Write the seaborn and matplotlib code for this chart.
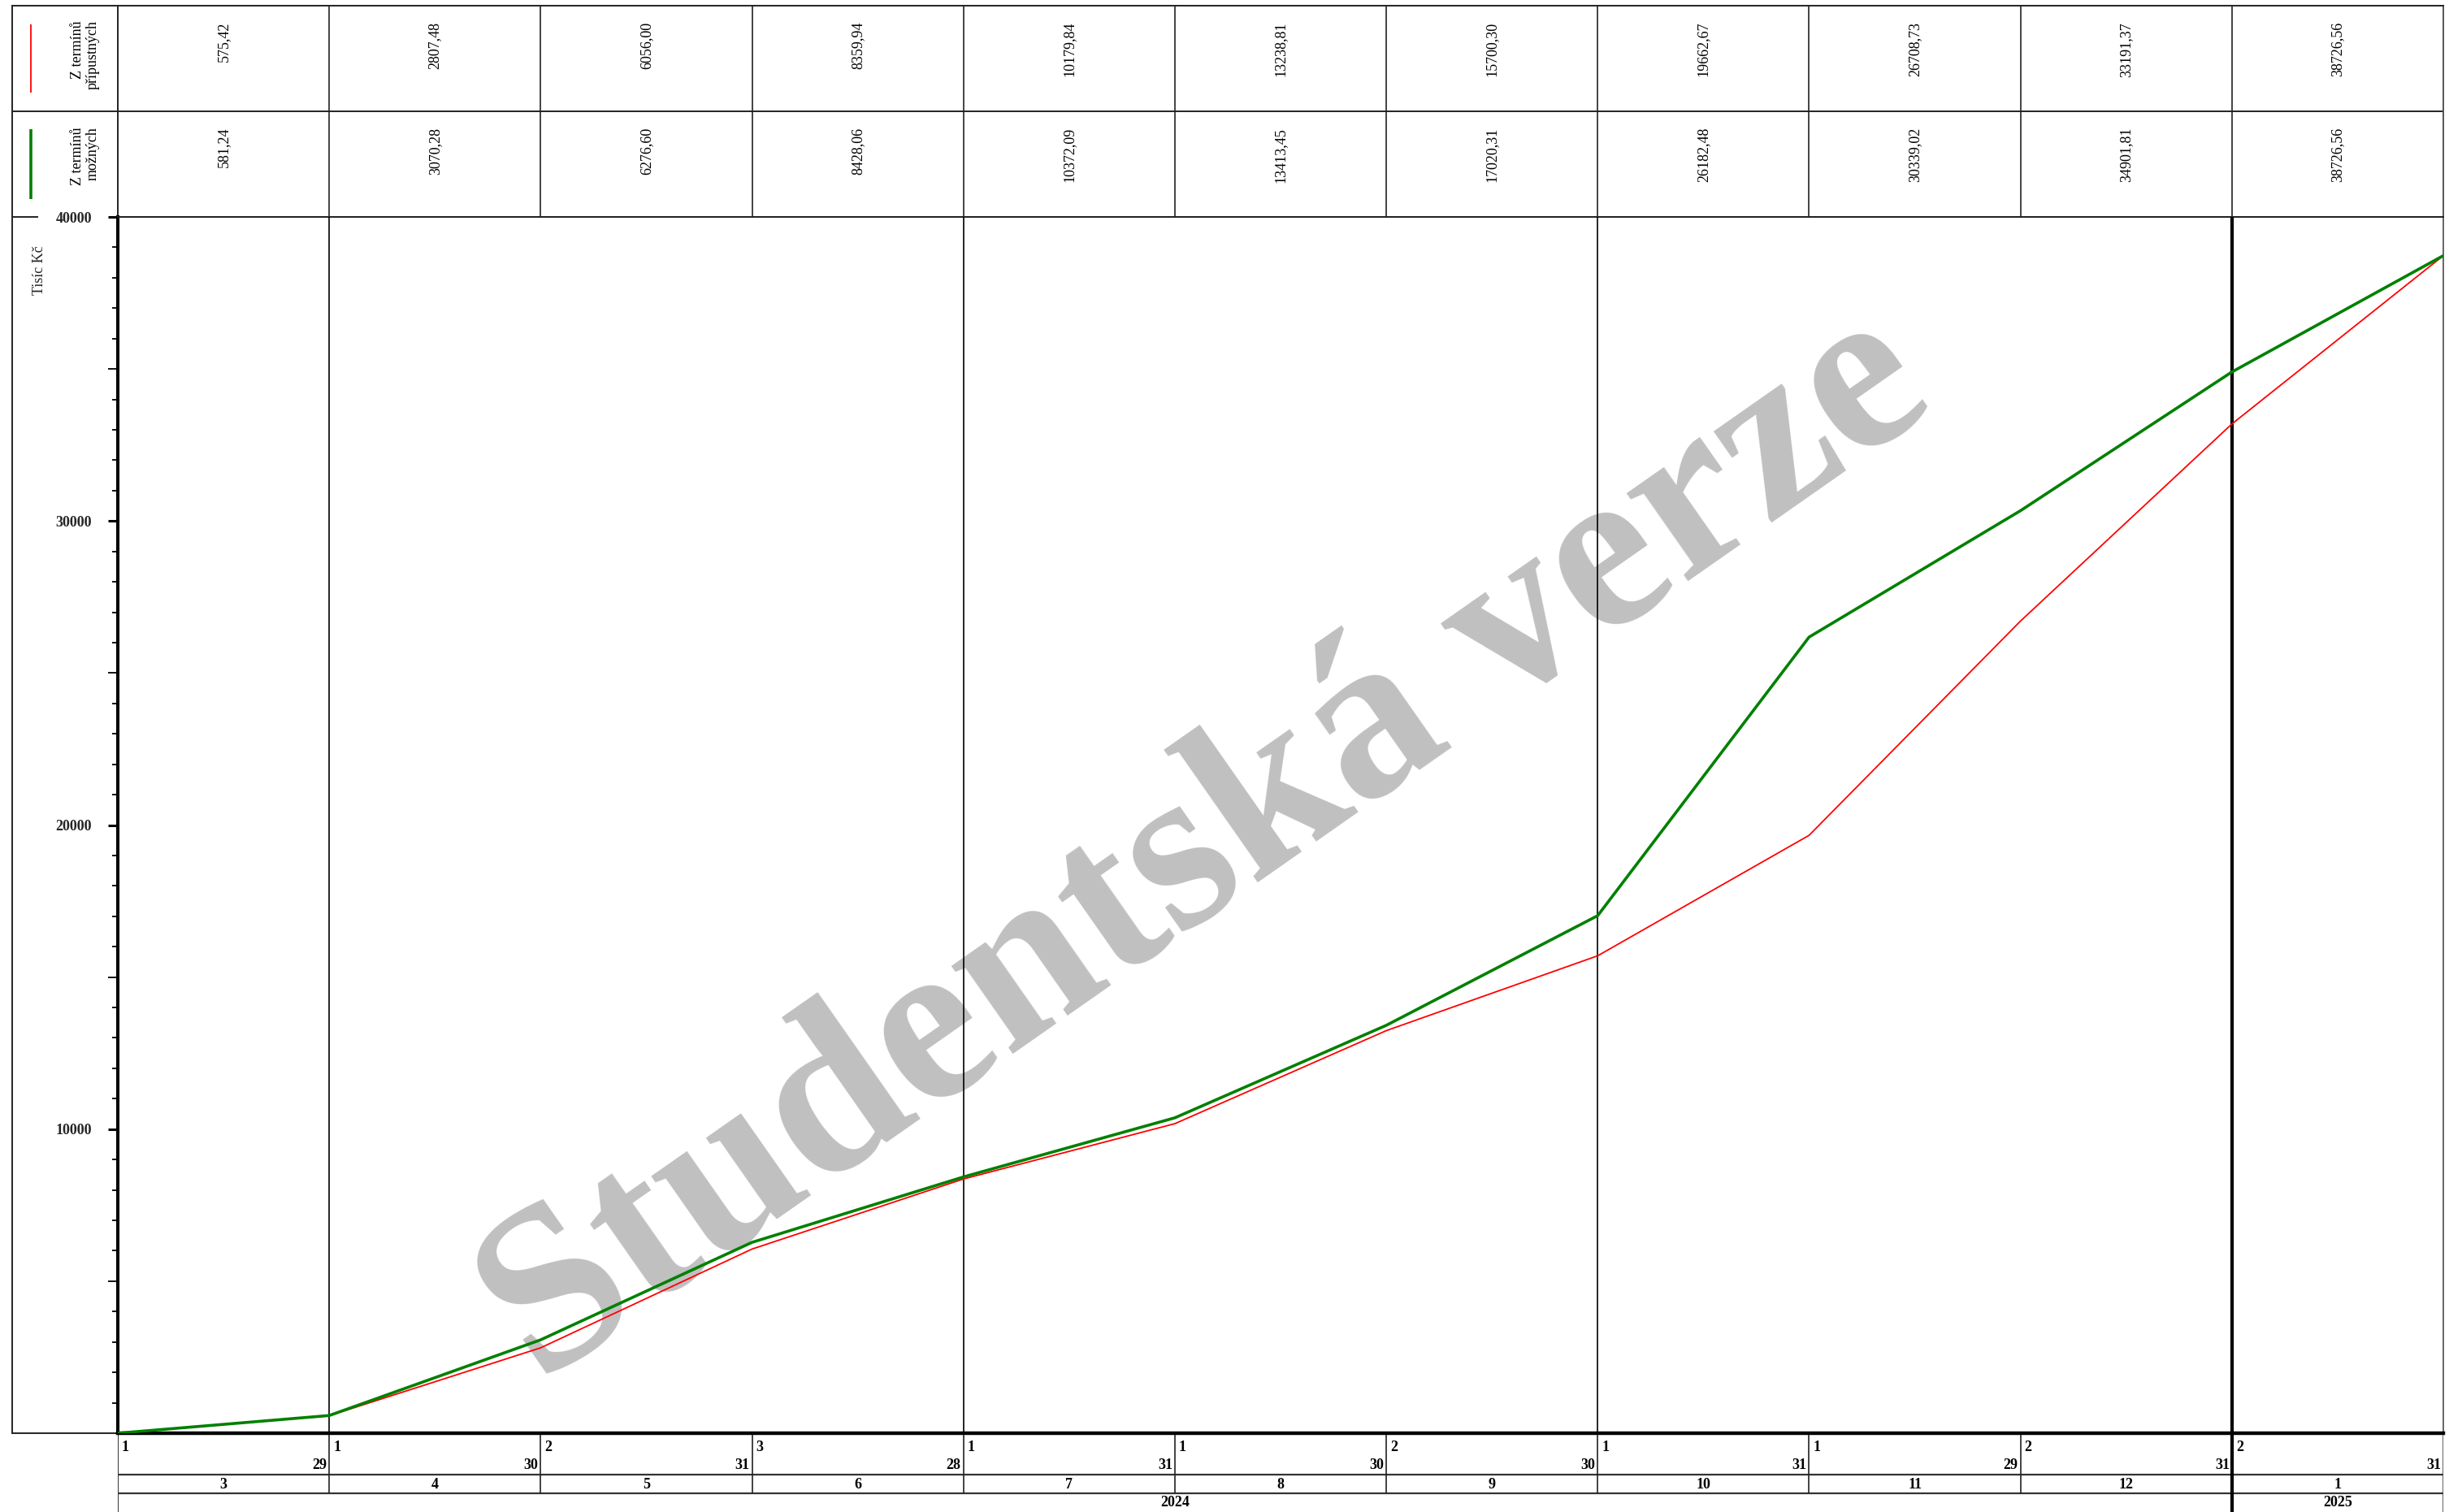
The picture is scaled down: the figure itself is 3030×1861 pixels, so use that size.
import numpy as np
import pandas as pd
import matplotlib
matplotlib.use("Agg")
import matplotlib.pyplot as plt
import seaborn as sns
from matplotlib.ticker import FixedLocator, FixedFormatter
from matplotlib.transforms import offset_copy

# ---------------- data ----------------
months = [3, 4, 5, 6, 7, 8, 9, 10, 11, 12, 1]
month_years = [2024, 2024, 2024, 2024, 2024, 2024, 2024, 2024, 2024, 2024, 2025]
start_days = [1, 1, 2, 3, 1, 1, 2, 1, 1, 2, 2]
end_days = [29, 30, 31, 28, 31, 30, 30, 31, 29, 31, 31]
red_vals = [575.42, 2807.48, 6056.00, 8359.94, 10179.84, 13238.81,
            15700.30, 19662.67, 26708.73, 33191.37, 38726.56]
green_vals = [581.24, 3070.28, 6276.60, 8428.06, 10372.09, 13413.45,
              17020.31, 26182.48, 30339.02, 34901.81, 38726.56]
series_names = ["Z termínů\npřípustných", "Z termínů\nmožných"]
series_colors = ["#ff0000", "#008000"]
y_label = "Tisíc Kč"
y_major = [10000, 20000, 30000, 40000]
watermark = "Studentská verze"

# ---------------- style ----------------
sns.set_theme(style="ticks")
plt.rcParams["font.family"] = ["Liberation Serif", "DejaVu Serif"]
plt.rcParams["text.color"] = "black"

W, H = 3030, 1861
fig = plt.figure(figsize=(W / 100, H / 100), dpi=100)
fig.patch.set_facecolor("white")

L, R = 145, 3007          # plot left/right (px)
T0, T1, T2, B = 7, 137, 267, 1764
LB = 15
GRID = "#222222"
FS = 13

def box(x0, y0, x1, y1):
    return [x0 / W, 1 - y1 / H, (x1 - x0) / W, (y1 - y0) / H]

n = len(months)
xs = np.arange(n + 1)

# ---------------- main plot ----------------
ax = fig.add_axes(box(L, T2, R, B))
ax.set_zorder(3)
ax.patch.set_alpha(0)
df = pd.DataFrame({
    "x": np.concatenate([xs, xs]),
    "value": np.concatenate([[0.0] + red_vals, [0.0] + green_vals]),
    "series": [series_names[0]] * (n + 1) + [series_names[1]] * (n + 1),
})
sns.lineplot(data=df[df.series == series_names[0]], x="x", y="value",
             color=series_colors[0], linewidth=1.3, ax=ax, zorder=4)
sns.lineplot(data=df[df.series == series_names[1]], x="x", y="value",
             color=series_colors[1], linewidth=2.6, ax=ax, zorder=5)
ax.set_xlim(0, n)
ax.set_ylim(0, 40000)
ax.set_xlabel("")
ax.set_xticks([])

# quarter / year boundaries
for i in range(1, n):
    if months[i] == 1:
        ax.axvline(i, color="black", lw=3.0, zorder=3)
    elif months[i - 1] % 3 == 0:
        ax.axvline(i, color="black", lw=1.2, zorder=3)

ax.yaxis.set_major_locator(FixedLocator(y_major))
ax.yaxis.set_major_formatter(FixedFormatter([str(v) for v in y_major]))
ax.yaxis.set_minor_locator(FixedLocator([v for v in range(1000, 40000, 1000) if v % 10000]))
ax.tick_params(axis="y", which="major", length=9, width=2.2, pad=14,
               labelsize=FS, color="black", left=True)
ax.tick_params(axis="y", which="minor", length=5, width=1.3, color="black", left=True)
for lab in ax.get_yticklabels():
    lab.set_fontweight("bold")
for line, loc in zip(ax.yaxis.get_minorticklines()[::2], ax.yaxis.get_minorticklocs()):
    if loc % 5000 == 0:
        line.set_markersize(9)

ax.spines["left"].set_linewidth(2.9)
ax.spines["left"].set_color("black")
ax.spines["bottom"].set_linewidth(3.2)
ax.spines["bottom"].set_color("black")
ax.spines["top"].set_linewidth(1.4)
ax.spines["top"].set_color(GRID)
ax.spines["right"].set_linewidth(1.4)
ax.spines["right"].set_color("#666666")

ax.text(0.4685, 0.48, watermark, transform=ax.transAxes, fontsize=207,
        fontweight="bold", color="#c0c0c0", rotation=35, rotation_mode="anchor",
        ha="center", va="center", zorder=0)

# y label (placed near the top of the axis)
ax.set_ylabel(y_label, fontsize=FS, rotation=90, va="center")
ax.yaxis.set_label_coords((48 - L) / (R - L), 1 - (333 - T2) / (B - T2))

# ---------------- table ----------------
tb = fig.add_axes(box(L, T0, R, T2))
tb.set_xlim(0, n)
tb.set_ylim(T2, T0)
tb.set_xticks([]); tb.set_yticks([])
for s in tb.spines.values():
    s.set_color(GRID); s.set_linewidth(1.4)
tb.spines["right"].set_color("#555555")
tb.hlines(T1, 0, n, color=GRID, lw=1.4)
tb.vlines(np.arange(1, n), T0, T2, color=GRID, lw=1.2)
fmt = lambda v: f"{v:.2f}".replace(".", ",")
for i in range(n):
    tb.text(i + 0.5, 27, fmt(red_vals[i]), rotation=90, ha="center", va="top", fontsize=FS)
    tb.text(i + 0.5, 157, fmt(green_vals[i]), rotation=90, ha="center", va="top", fontsize=FS)

# ---------------- left legend panel ----------------
lp = fig.add_axes(box(LB, T0, L, B))
lp.set_xlim(LB, L)
lp.set_ylim(B, T0)
lp.set_xticks([]); lp.set_yticks([])
lp.patch.set_alpha(0)
for k, s in lp.spines.items():
    s.set_color(GRID); s.set_linewidth(1.4)
lp.spines["right"].set_visible(False)
lp.hlines(T1, LB, L, color=GRID, lw=1.4)
lp.hlines(T2, LB, 47, color=GRID, lw=1.4)
lp.vlines(38, 30, 114, color=series_colors[0], lw=1.3)
lp.vlines(38, 159, 245, color=series_colors[1], lw=2.6)
lp.text(105, 25, series_names[0], rotation=90, ha="center", va="top",
        multialignment="right", fontsize=FS, linespacing=1.1)
lp.text(105, 156, series_names[1], rotation=90, ha="center", va="top",
        multialignment="right", fontsize=FS, linespacing=1.1)

# ---------------- bottom date axis ----------------
bt = fig.add_axes(box(L, B, R, H))
bt.set_xlim(0, n)
bt.set_ylim(H, B)
bt.set_xticks([]); bt.set_yticks([])
bt.patch.set_alpha(0)
for k, s in bt.spines.items():
    s.set_visible(False)
bt.vlines([0], B, H, color=GRID, lw=1.3)
bt.vlines([n], B, H, color="#555555", lw=1.3)
row1, row2 = 1815, 1838
bt.hlines([row1, row2], 0, n, color="#333333", lw=1.6)
for i in range(1, n):
    if months[i] == 1:
        bt.vlines(i, B, H, color="black", lw=3.0)
    else:
        bt.vlines(i, B, row2, color=GRID, lw=1.2)
tr_l = offset_copy(bt.transData, fig=fig, x=5, y=0, units="dots")
tr_r = offset_copy(bt.transData, fig=fig, x=-3, y=0, units="dots")
for i in range(n):
    bt.text(i, 1773, str(start_days[i]), transform=tr_l, ha="left", va="top",
            fontsize=FS, fontweight="bold")
    bt.text(i + 1, 1812, str(end_days[i]), transform=tr_r, ha="right", va="bottom",
            fontsize=FS, fontweight="bold")
    bt.text(i + 0.5, 1827, str(months[i]), ha="center", va="center",
            fontsize=FS, fontweight="bold")
for yv in sorted(set(month_years)):
    idx = [i for i, y in enumerate(month_years) if y == yv]
    bt.text((idx[0] + idx[-1] + 1) / 2, 1850, str(yv), ha="center", va="center",
            fontsize=FS, fontweight="bold")

fig.savefig("out.png", dpi=100, facecolor="white")
